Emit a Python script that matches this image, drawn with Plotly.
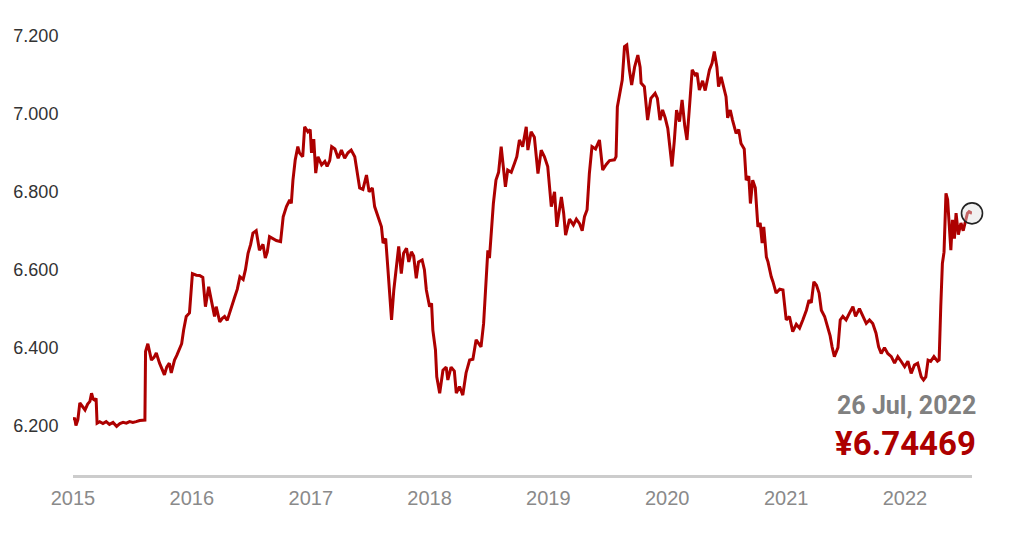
import plotly.graph_objects as go

dates = [
    "2015-01-01", "2015-01-06", "2015-01-10", "2015-01-16", "2015-01-22", "2015-01-28", "2015-02-07", "2015-02-15",
    "2015-02-22", "2015-02-27", "2015-03-04", "2015-03-09", "2015-03-13", "2015-03-16", "2015-03-24", "2015-04-03",
    "2015-04-13", "2015-04-23", "2015-05-04", "2015-05-15", "2015-05-25", "2015-06-04", "2015-06-14", "2015-06-24",
    "2015-07-04", "2015-07-14", "2015-07-25", "2015-08-10", "2015-08-12", "2015-08-19", "2015-08-25", "2015-08-30",
    "2015-09-07", "2015-09-14", "2015-09-24", "2015-10-02", "2015-10-09", "2015-10-16", "2015-10-24", "2015-10-30",
    "2015-11-09", "2015-11-16", "2015-11-24", "2015-12-01", "2015-12-07", "2015-12-15", "2015-12-25",
    "2016-01-03", "2016-01-15", "2016-01-25", "2016-02-04", "2016-02-12", "2016-02-22", "2016-03-01", "2016-03-11",
    "2016-03-16", "2016-03-27", "2016-04-04", "2016-04-11", "2016-04-19", "2016-04-27", "2016-05-05", "2016-05-12",
    "2016-05-20", "2016-05-28", "2016-06-07", "2016-06-14", "2016-06-22", "2016-06-30", "2016-07-07", "2016-07-17",
    "2016-07-27", "2016-08-07", "2016-08-14", "2016-08-20", "2016-08-27", "2016-09-07", "2016-09-17", "2016-09-30",
    "2016-10-08", "2016-10-18", "2016-10-28", "2016-11-02", "2016-11-07", "2016-11-14", "2016-11-22", "2016-11-27",
    "2016-12-07", "2016-12-13", "2016-12-23", "2016-12-30",
    "2017-01-03", "2017-01-10", "2017-01-16", "2017-01-23", "2017-02-03", "2017-02-13", "2017-02-20", "2017-02-28",
    "2017-03-06", "2017-03-16", "2017-03-26", "2017-04-05", "2017-04-15", "2017-04-25", "2017-05-05", "2017-05-16",
    "2017-05-23", "2017-05-31", "2017-06-10", "2017-06-21", "2017-06-29", "2017-07-09", "2017-07-16", "2017-07-26",
    "2017-08-06", "2017-08-11", "2017-08-19", "2017-08-26", "2017-09-02", "2017-09-06", "2017-09-13", "2017-09-21",
    "2017-09-28", "2017-10-06", "2017-10-13", "2017-10-22", "2017-10-29", "2017-11-06", "2017-11-13", "2017-11-21",
    "2017-11-28", "2017-12-09", "2017-12-16", "2017-12-22",
    "2018-01-01", "2018-01-07", "2018-01-11", "2018-01-19", "2018-01-23", "2018-02-01", "2018-02-11", "2018-02-21",
    "2018-02-26", "2018-03-08", "2018-03-18", "2018-03-24", "2018-04-03", "2018-04-13", "2018-04-23", "2018-05-04",
    "2018-05-14", "2018-05-24", "2018-06-08", "2018-06-16", "2018-06-22", "2018-06-29", "2018-07-04", "2018-07-09",
    "2018-07-16", "2018-07-24", "2018-08-01", "2018-08-09", "2018-08-14", "2018-08-22", "2018-08-29", "2018-09-09",
    "2018-09-19", "2018-09-26", "2018-10-04", "2018-10-14", "2018-10-25", "2018-10-30", "2018-11-09", "2018-11-19",
    "2018-11-30", "2018-12-10", "2018-12-20", "2018-12-30",
    "2019-01-10", "2019-01-20", "2019-01-27", "2019-02-10", "2019-02-17", "2019-02-23", "2019-03-07", "2019-03-19",
    "2019-03-28", "2019-04-07", "2019-04-15", "2019-04-22", "2019-04-30", "2019-05-07", "2019-05-15", "2019-05-26",
    "2019-06-07", "2019-06-17", "2019-06-28", "2019-07-08", "2019-07-23", "2019-07-28", "2019-08-01", "2019-08-08",
    "2019-08-16", "2019-08-23", "2019-08-30", "2019-09-07", "2019-09-14", "2019-09-23", "2019-10-03", "2019-10-10",
    "2019-10-13", "2019-10-23", "2019-11-02", "2019-11-12", "2019-11-25", "2019-12-02", "2019-12-10", "2019-12-18",
    "2019-12-26",
    "2020-01-03", "2020-01-10", "2020-01-16", "2020-01-23", "2020-01-30", "2020-02-08", "2020-02-16", "2020-02-24",
    "2020-03-02", "2020-03-09", "2020-03-18", "2020-03-27", "2020-04-02", "2020-04-09", "2020-04-19", "2020-04-27",
    "2020-05-10", "2020-05-18", "2020-05-25", "2020-06-02", "2020-06-07", "2020-06-15", "2020-06-22", "2020-06-30",
    "2020-07-05", "2020-07-13", "2020-07-20", "2020-07-31", "2020-08-08", "2020-08-15", "2020-08-25", "2020-08-31",
    "2020-09-08", "2020-09-13", "2020-09-20", "2020-09-28", "2020-10-06", "2020-10-13", "2020-10-19", "2020-10-24",
    "2020-11-01", "2020-11-06", "2020-11-16", "2020-11-21", "2020-12-01", "2020-12-12", "2020-12-22",
    "2021-01-01", "2021-01-11", "2021-01-21", "2021-02-01", "2021-02-11", "2021-02-21", "2021-03-04", "2021-03-12",
    "2021-03-19", "2021-03-27", "2021-04-04", "2021-04-12", "2021-04-19", "2021-04-29", "2021-05-09", "2021-05-16",
    "2021-05-22", "2021-05-29", "2021-06-09", "2021-06-16", "2021-06-24", "2021-07-04", "2021-07-14", "2021-07-25",
    "2021-08-02", "2021-08-14", "2021-08-25", "2021-09-04", "2021-09-14", "2021-09-24", "2021-10-04", "2021-10-12",
    "2021-10-20", "2021-10-30", "2021-11-09", "2021-11-20", "2021-11-30", "2021-12-10", "2021-12-20", "2021-12-31",
    "2022-01-10", "2022-01-20", "2022-01-30", "2022-02-09", "2022-02-20", "2022-02-27", "2022-03-06", "2022-03-13",
    "2022-03-21", "2022-03-31", "2022-04-11", "2022-04-16", "2022-04-21", "2022-04-26", "2022-05-01", "2022-05-07",
    "2022-05-12", "2022-05-17", "2022-05-22", "2022-05-27", "2022-06-02", "2022-06-07", "2022-06-14", "2022-06-22",
    "2022-06-29", "2022-07-07", "2022-07-12", "2022-07-17", "2022-07-26",
]

rates = [
    6.214, 6.22, 6.20, 6.215, 6.258, 6.25, 6.24, 6.255,
    6.262, 6.283, 6.268, 6.265, 6.27, 6.206, 6.21, 6.205,
    6.21, 6.203, 6.208, 6.198, 6.205, 6.208, 6.206, 6.21,
    6.208, 6.21, 6.213, 6.214, 6.39, 6.41, 6.39, 6.368,
    6.375, 6.386, 6.36, 6.345, 6.33, 6.35, 6.36, 6.335,
    6.368, 6.38, 6.394, 6.41, 6.445, 6.48, 6.489,
    6.59, 6.586, 6.585, 6.58, 6.505, 6.556, 6.52, 6.48,
    6.505, 6.466, 6.475, 6.48, 6.47, 6.489, 6.51, 6.53,
    6.55, 6.582, 6.575, 6.60, 6.642, 6.665, 6.694, 6.70,
    6.65, 6.665, 6.63, 6.645, 6.685, 6.68, 6.675, 6.672,
    6.736, 6.762, 6.779, 6.77, 6.83, 6.882, 6.916, 6.90,
    6.89, 6.967, 6.954, 6.96,
    6.90, 6.935, 6.848, 6.89, 6.869, 6.878, 6.865, 6.88,
    6.916, 6.91, 6.886, 6.907, 6.886, 6.90, 6.907, 6.89,
    6.856, 6.81, 6.806, 6.843, 6.80, 6.81, 6.762, 6.736,
    6.71, 6.668, 6.68, 6.60, 6.53, 6.471, 6.548, 6.60,
    6.66, 6.59, 6.642, 6.655, 6.62, 6.646, 6.635, 6.578,
    6.62, 6.625, 6.60, 6.548,
    6.505, 6.514, 6.445, 6.394, 6.325, 6.283, 6.342, 6.35,
    6.317, 6.35, 6.34, 6.283, 6.30, 6.278, 6.335, 6.368,
    6.37, 6.42, 6.402, 6.462, 6.54, 6.65, 6.63, 6.694,
    6.77, 6.83, 6.85, 6.916, 6.87, 6.813, 6.856, 6.85,
    6.873, 6.89, 6.933, 6.916, 6.967, 6.907, 6.954, 6.94,
    6.847, 6.907, 6.89, 6.865,
    6.762, 6.80, 6.71, 6.787, 6.745, 6.689, 6.73, 6.715,
    6.73, 6.718, 6.70, 6.736, 6.754, 6.847, 6.916, 6.91,
    6.933, 6.856, 6.87, 6.88, 6.882, 6.89, 7.018, 7.053,
    7.087, 7.173, 7.177, 7.113, 7.074, 7.12, 7.151, 7.12,
    7.079, 7.07, 6.984, 7.04, 7.053, 7.04, 6.984, 7.01,
    6.99,
    6.963, 6.916, 6.865, 6.93, 7.01, 6.98, 7.036, 6.97,
    6.933, 7.01, 7.113, 7.10, 7.105, 7.061, 7.085, 7.06,
    7.113, 7.13, 7.16, 7.12, 7.07, 7.095, 7.07, 7.044,
    6.99, 7.01, 6.984, 6.95, 6.96, 6.924, 6.91, 6.83,
    6.84, 6.77, 6.83, 6.81, 6.71, 6.72, 6.668, 6.71,
    6.633, 6.62, 6.582, 6.57, 6.54, 6.55, 6.548,
    6.471, 6.48, 6.441, 6.46, 6.45, 6.471, 6.496, 6.522,
    6.515, 6.569, 6.56, 6.54, 6.496, 6.48, 6.454, 6.43,
    6.402, 6.377, 6.40, 6.471, 6.48, 6.471, 6.488, 6.505,
    6.48, 6.50, 6.48, 6.462, 6.471, 6.462, 6.437, 6.402,
    6.385, 6.40, 6.385, 6.377, 6.36, 6.377, 6.365, 6.351,
    6.365, 6.334, 6.355, 6.36, 6.325, 6.317, 6.325, 6.368,
    6.365, 6.377, 6.365, 6.368, 6.505, 6.616, 6.645, 6.796,
    6.78, 6.70, 6.65, 6.728, 6.68, 6.745, 6.69, 6.72,
    6.70, 6.728, 6.745, 6.749, 6.74469,
]

y_ticks = [6.2, 6.4, 6.6, 6.8, 7.0, 7.2]
x_ticks = ["2015-01-01", "2016-01-01", "2017-01-01", "2018-01-01",
           "2019-01-01", "2020-01-01", "2021-01-01", "2022-01-01"]
x_tick_labels = ["2015", "2016", "2017", "2018", "2019", "2020", "2021", "2022"]
last_date_label = "26 Jul, 2022"

LINE_RED = "#ad0000"

fig = go.Figure()
fig.add_trace(go.Scatter(
    x=dates, y=rates, mode="lines",
    line=dict(color=LINE_RED, width=3),
    hoverinfo="skip", showlegend=False,
))
fig.add_trace(go.Scatter(
    x=[dates[-1]], y=[rates[-1]], mode="markers",
    marker=dict(size=21, color="rgba(225,225,225,0.45)",
                line=dict(color="#222222", width=1.6)),
    cliponaxis=False, hoverinfo="skip", showlegend=False,
))

fig.add_annotation(
    xref="paper", yref="paper", x=1, y=0.152, xanchor="right", yanchor="middle",
    xshift=6, text=last_date_label, showarrow=False,
    font=dict(family="Roboto", size=25, color="#808080", weight="bold"),
)
fig.add_annotation(
    xref="paper", yref="paper", x=1, y=0.07, xanchor="right", yanchor="middle",
    xshift=6, text="¥{:.5f}".format(rates[-1]), showarrow=False,
    font=dict(family="Roboto", size=33, color=LINE_RED, weight="bold"),
)

fig.update_layout(
    width=1024, height=543,
    margin=dict(l=65, r=60, t=12, b=76),
    paper_bgcolor="white", plot_bgcolor="white",
    font=dict(family="Liberation Sans, Arial, sans-serif"),
    xaxis=dict(
        type="date", range=["2015-01-01", "2022-07-26"],
        tickvals=x_ticks, ticktext=x_tick_labels,
        showgrid=False, zeroline=False, automargin=False,
        showline=True, linecolor="#cccccc", linewidth=3,
        ticks="outside", ticklen=3, tickcolor="rgba(0,0,0,0)",
        tickfont=dict(size=20, color="#8a8a8a"),
    ),
    yaxis=dict(
        range=[6.073, 7.241],
        tickvals=y_ticks, tickformat=".3f",
        showgrid=False, zeroline=False, showline=False, automargin=False,
        ticks="outside", ticklen=10, tickcolor="rgba(0,0,0,0)",
        tickfont=dict(size=18, color="#333333"),
    ),
)

fig.write_html("out.html")
